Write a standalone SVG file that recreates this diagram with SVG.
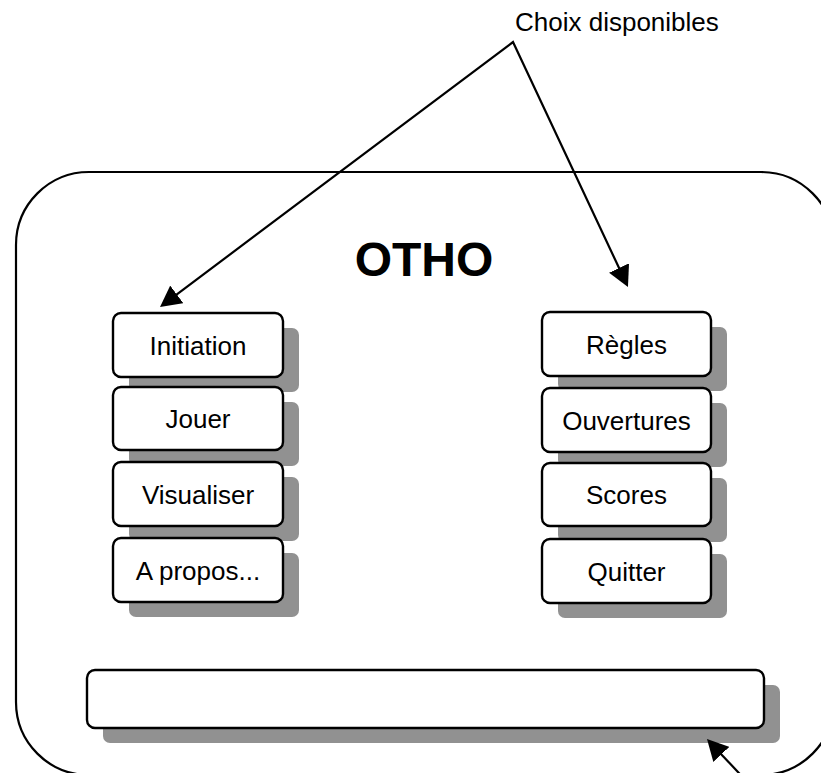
<svg xmlns="http://www.w3.org/2000/svg" width="821" height="773" viewBox="0 0 821 773">
<style>
.frame{fill:#fff;stroke:#000;stroke-width:2.2}
.box{fill:#fff;stroke:#000;stroke-width:2.4}
.shadow{fill:#919191;stroke:none}
.lbl{font-family:"Liberation Sans",Arial,sans-serif;font-size:26px;fill:#000;text-anchor:middle}
.title{font-family:"Liberation Sans",Arial,sans-serif;font-size:48px;font-weight:bold;fill:#000;text-anchor:middle}
.note{font-family:"Liberation Sans",Arial,sans-serif;font-size:26px;fill:#000}
.conn{fill:none;stroke:#000;stroke-width:2.2;stroke-linejoin:miter}
</style>
<defs>
<marker id="ah" markerUnits="userSpaceOnUse" markerWidth="22" markerHeight="22" refX="2" refY="11" orient="auto-start-reverse" viewBox="0 0 22 22">
<path d="M0,0 L21,11 L0,22 z" fill="#000"/>
</marker>
</defs>
<g id="frame">
<rect class="frame" x="16" y="172" width="818" height="603" rx="73" ry="73"/>
<text class="title" x="424" y="276">OTHO</text>
</g>
<g id="initiation"><rect class="shadow" x="129" y="328" width="170" height="64" rx="7"/><rect class="box" x="113" y="313" width="170" height="64" rx="8"/><text class="lbl" x="198" y="354.5">Initiation</text></g>
<g id="jouer"><rect class="shadow" x="129" y="402" width="170" height="64" rx="7"/><rect class="box" x="113" y="387" width="170" height="63" rx="8"/><text class="lbl" x="198" y="428">Jouer</text></g>
<g id="visualiser"><rect class="shadow" x="129" y="477" width="170" height="64" rx="7"/><rect class="box" x="113" y="462" width="170" height="64" rx="8"/><text class="lbl" x="198" y="503.5">Visualiser</text></g>
<g id="apropos"><rect class="shadow" x="129" y="553" width="170" height="64" rx="7"/><rect class="box" x="113" y="538" width="170" height="64" rx="8"/><text class="lbl" x="198" y="579.5">A propos...</text></g>
<g id="regles"><rect class="shadow" x="558" y="327" width="169" height="64" rx="7"/><rect class="box" x="542" y="312" width="169" height="64" rx="8"/><text class="lbl" x="626.5" y="353.5">Règles</text></g>
<g id="ouvertures"><rect class="shadow" x="558" y="403" width="169" height="64" rx="7"/><rect class="box" x="542" y="388" width="169" height="64" rx="8"/><text class="lbl" x="626.5" y="429.5">Ouvertures</text></g>
<g id="scores"><rect class="shadow" x="558" y="478" width="169" height="64" rx="7"/><rect class="box" x="542" y="463" width="169" height="63" rx="8"/><text class="lbl" x="626.5" y="504">Scores</text></g>
<g id="quitter"><rect class="shadow" x="558" y="554" width="169" height="64" rx="7"/><rect class="box" x="542" y="539" width="169" height="64" rx="8"/><text class="lbl" x="626.5" y="580.5">Quitter</text></g>
<g id="barre"><rect class="shadow" x="103" y="685" width="677" height="58" rx="7"/><rect class="box" x="87" y="670" width="677" height="58" rx="8"/></g>
<g id="choix"><text class="note" x="515" y="31">Choix disponibles</text></g>
<g id="connectors">
<path class="conn" d="M175.2,295.6 L513,42 L619.9,269.8" marker-start="url(#ah)" marker-end="url(#ah)"/>
<path class="conn" d="M748,782.7 L720,752.9" marker-end="url(#ah)"/>
</g>
</svg>
